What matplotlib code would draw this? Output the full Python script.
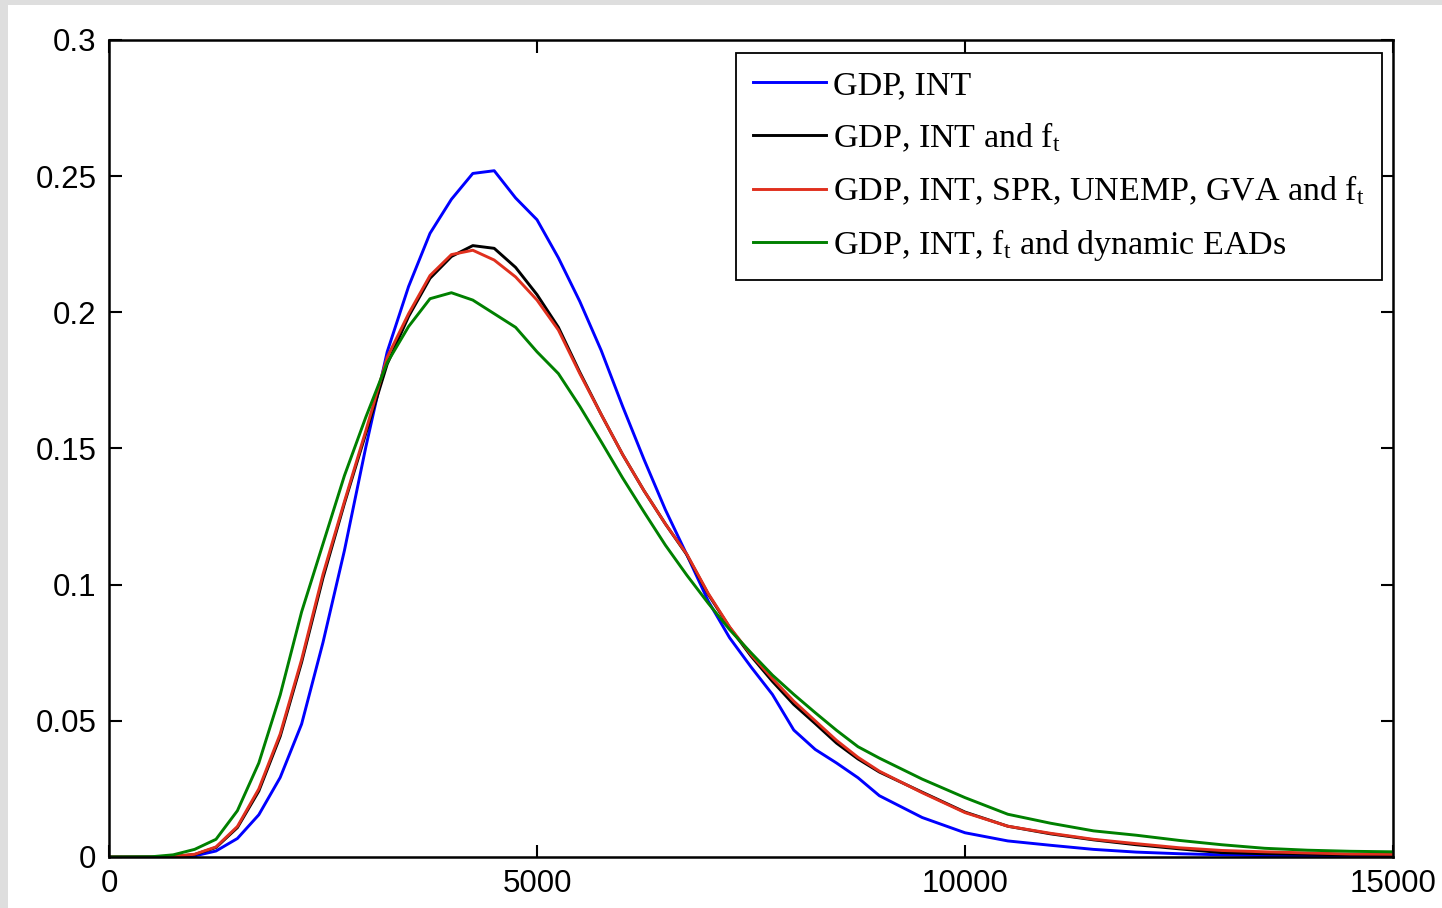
import matplotlib
matplotlib.use("Agg")
import matplotlib.pyplot as plt
from matplotlib.patches import Rectangle

x_vals = [0, 500, 750, 1000, 1250, 1500, 1750, 2000, 2250, 2500, 2750, 3000, 3250, 3500,
          3750, 4000, 4250, 4500, 4750, 5000, 5250, 5500, 5750, 6000, 6250, 6500, 6750,
          7000, 7250, 7500, 7750, 8000, 8250, 8500, 8750, 9000, 9500, 10000, 10500, 11000,
          11500, 12000, 12500, 13000, 13500, 14000, 14500, 15000]

gdp_int = [0.0, 0.0, 0.0001, 0.0004, 0.0022, 0.0068, 0.0155, 0.0292, 0.0488, 0.0788, 0.1125,
           0.1505, 0.1855, 0.2095, 0.2290, 0.2415, 0.2510, 0.2520, 0.2420, 0.2340, 0.2200,
           0.2040, 0.1860, 0.1655, 0.1460, 0.1275, 0.1110, 0.0940, 0.0805, 0.0698, 0.0597,
           0.0466, 0.0395, 0.0345, 0.0291, 0.0225, 0.0145, 0.0089, 0.0059, 0.0043, 0.0028,
           0.0018, 0.0012, 0.0008, 0.0005, 0.0004, 0.0003, 0.0002]

gdp_int_f = [0.0, 0.0, 0.0002, 0.0009, 0.0035, 0.0108, 0.0242, 0.0443, 0.0715, 0.1025, 0.1298,
             0.1555, 0.1810, 0.1985, 0.2125, 0.2205, 0.2245, 0.2235, 0.2165, 0.2065, 0.1945,
             0.1780, 0.1625, 0.1478, 0.1345, 0.1223, 0.1110, 0.0965, 0.0843, 0.0738, 0.0645,
             0.0560, 0.0490, 0.0418, 0.0360, 0.0312, 0.0238, 0.0165, 0.0113, 0.0085, 0.0063,
             0.0045, 0.0030, 0.0016, 0.0012, 0.0010, 0.0008, 0.0006]

gdp_int_spr = [0.0, 0.0, 0.0002, 0.0010, 0.0037, 0.0112, 0.0250, 0.0452, 0.0725, 0.1038, 0.1305,
               0.1565, 0.1835, 0.1995, 0.2135, 0.2212, 0.2228, 0.2192, 0.2130, 0.2045, 0.1935,
               0.1775, 0.1625, 0.1478, 0.1345, 0.1223, 0.1112, 0.0968, 0.0845, 0.0743, 0.0655,
               0.0572, 0.0500, 0.0428, 0.0366, 0.0315, 0.0236, 0.0163, 0.0113, 0.0087, 0.0065,
               0.0049, 0.0034, 0.0024, 0.0019, 0.0015, 0.0011, 0.0010]

gdp_int_ead = [0.0, 0.0001, 0.0008, 0.0028, 0.0065, 0.0170, 0.0345, 0.0595, 0.0900, 0.1150, 0.1400,
               0.1615, 0.1815, 0.1948, 0.2050, 0.2072, 0.2045, 0.1995, 0.1945, 0.1855, 0.1775,
               0.1655, 0.1525, 0.1392, 0.1267, 0.1145, 0.1035, 0.0932, 0.0835, 0.0750, 0.0668,
               0.0597, 0.0530, 0.0465, 0.0405, 0.0363, 0.0286, 0.0218, 0.0157, 0.0124, 0.0096,
               0.0080, 0.0061, 0.0045, 0.0032, 0.0025, 0.0021, 0.0019]

labels = ["GDP, INT",
          "GDP, INT and f$_{\\mathrm{t}}$",
          "GDP, INT, SPR, UNEMP, GVA and f$_{\\mathrm{t}}$",
          "GDP, INT, f$_{\\mathrm{t}}$ and dynamic EADs"]
colors = ["#0000ff", "#000000", "#e0301e", "#008000"]

x_ticks = [0, 5000, 10000, 15000]
y_ticks = [0, 0.05, 0.1, 0.15, 0.2, 0.25, 0.3]
y_ticklabels = ["0", "0.05", "0.1", "0.15", "0.2", "0.25", "0.3"]

plt.rcParams["mathtext.fontset"] = "custom"
plt.rcParams["mathtext.rm"] = "Liberation Serif"
plt.rcParams["mathtext.it"] = "Liberation Serif:italic"

W, H = 1442, 908
fig = plt.figure(figsize=(W / 100, H / 100), dpi=100, facecolor="#dedede")
fig.patches.append(Rectangle((8 / W, 0), 1 - 8 / W, 1 - 5 / H, transform=fig.transFigure,
                             facecolor="white", edgecolor="none", zorder=-1))

ax = fig.add_axes([109 / W, 1 - 857 / H, (1393 - 109) / W, (857 - 40) / H])
ax.set_facecolor("white")

series = [gdp_int, gdp_int_f, gdp_int_spr, gdp_int_ead]
for ys, c, lab in zip(series, colors, labels):
    ax.plot(x_vals, ys, color=c, lw=2.1, label=lab)

ax.set_xlim(0, 15000)
ax.set_ylim(0, 0.3)
ax.set_xticks(x_ticks)
ax.set_xticklabels([str(t) for t in x_ticks])
ax.set_yticks(y_ticks)
ax.set_yticklabels(y_ticklabels)
ax.tick_params(direction="in", length=9, width=1.5, top=True, right=True,
               labelsize=22.5, pad=9)
for lab in ax.get_xticklabels() + ax.get_yticklabels():
    lab.set_fontfamily("Liberation Sans")
for sp in ax.spines.values():
    sp.set_linewidth(1.8)
    sp.set_color("black")

leg = ax.legend(loc="upper right", bbox_to_anchor=(1382 / W, 1 - 53 / H),
                bbox_transform=fig.transFigure, frameon=True, fancybox=False,
                edgecolor="black", framealpha=1, handlelength=2.15, handletextpad=0.2,
                borderpad=0.5, labelspacing=0.58, borderaxespad=0,
                prop={"family": "Liberation Serif", "size": 24.5})
leg.get_frame().set_linewidth(1.3)

fig.savefig("out.png", dpi=100, facecolor=fig.get_facecolor())
